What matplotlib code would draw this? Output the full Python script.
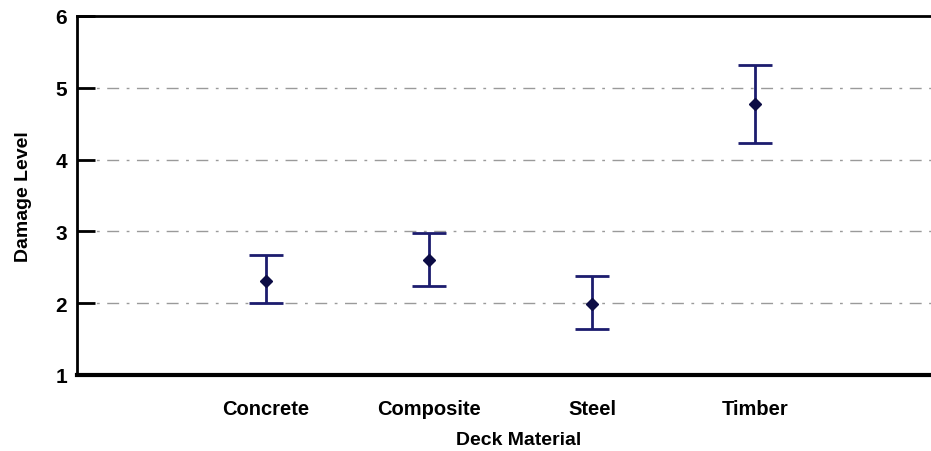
import matplotlib
matplotlib.use("Agg")
import matplotlib.pyplot as plt
import numpy as np

categories = ["Concrete", "Composite", "Steel", "Timber"]
means = [2.31, 2.60, 1.99, 4.77]
upper = [2.67, 2.98, 2.38, 5.32]
lower = [2.00, 2.24, 1.64, 4.23]
yticks = [1, 2, 3, 4, 5, 6]

plt.rcParams['font.family'] = ['Liberation Sans', 'DejaVu Sans']

fig = plt.figure(figsize=(9.31, 4.52), dpi=100)
ax = fig.add_axes([77/931, 1-376/452, 1-77/931+0.01, (376-17)/452])

x = np.arange(1, len(categories)+1)
m = np.array(means)
yerr = [m - np.array(lower), np.array(upper) - m]
ax.errorbar(x, m, yerr=yerr, fmt='D', color='#1c1c6e', ecolor='#1c1c6e',
            markersize=6, markerfacecolor='#0c0c45', markeredgecolor='#0c0c45',
            elinewidth=2, capsize=12, capthick=2, zorder=3)

ax.set_xlim(-0.16, 5.135)
ax.set_ylim(1, 6)
ax.set_yticks(yticks)
ax.set_yticklabels([str(t) for t in yticks], fontsize=15, fontweight='bold')
ax.set_xticks(x)
ax.set_xticklabels(categories, fontsize=14.5, fontweight='bold')
ax.tick_params(axis='x', length=0, pad=17)
ax.tick_params(axis='y', direction='in', length=13, width=2, pad=7)

for yv in [2, 3, 4, 5]:
    ax.axhline(yv, color='#9a9a9a', linestyle=(0, (8.6, 5.4, 2, 5.4)), linewidth=1, zorder=1)

for s in ['left', 'top']:
    ax.spines[s].set_linewidth(2)
ax.spines['bottom'].set_linewidth(3)
ax.spines['right'].set_visible(False)

ax.set_xlabel("Deck Material", fontsize=14, fontweight='bold', labelpad=9)
ax.xaxis.set_label_coords(0.512, -0.157)
ax.set_ylabel("Damage Level", fontsize=14, fontweight='bold', labelpad=17)

fig.savefig("out.png", dpi=100)
